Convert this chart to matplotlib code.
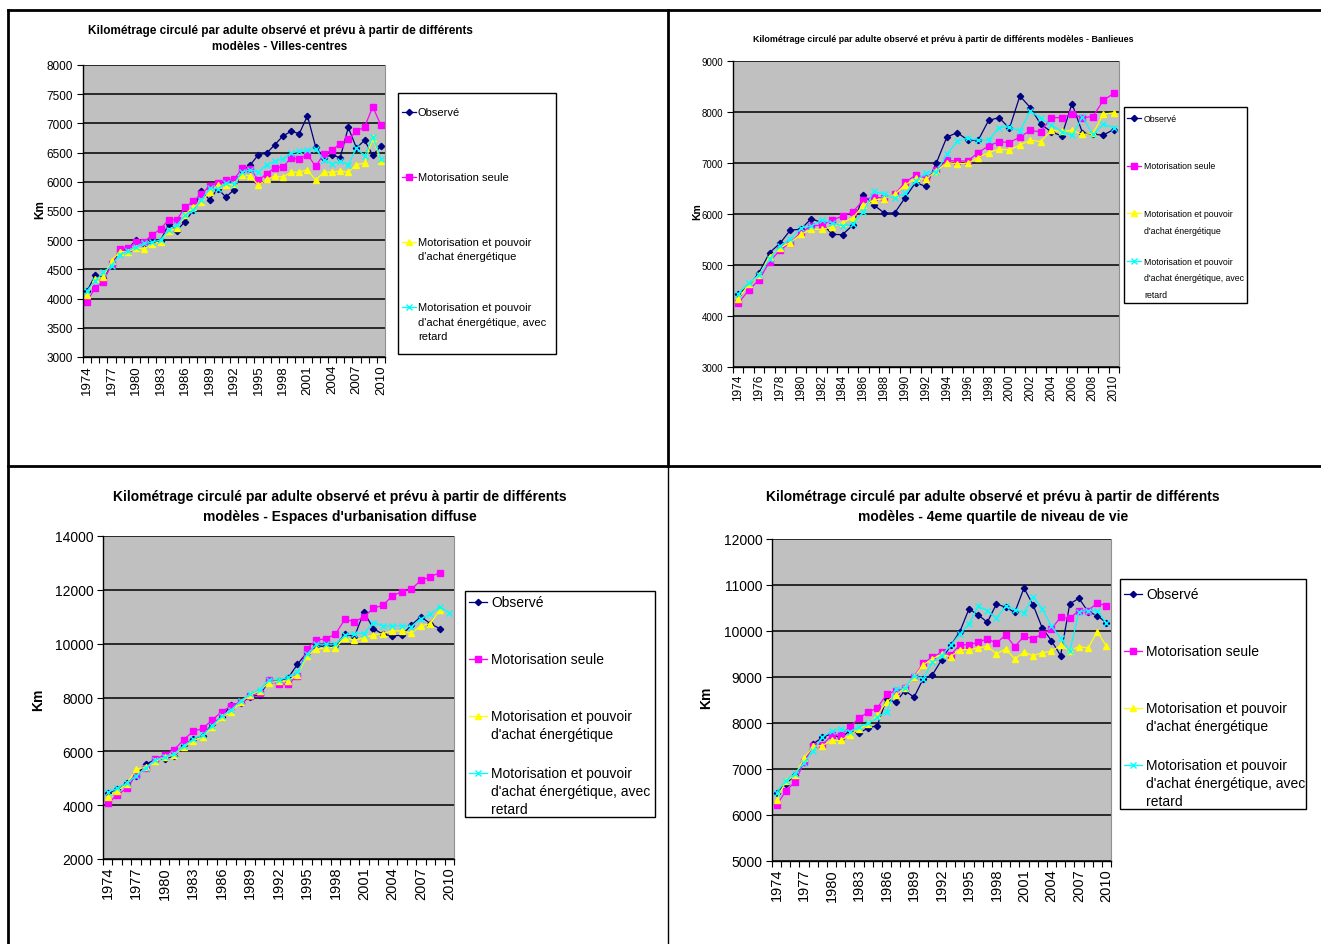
import numpy as np
import matplotlib
matplotlib.use("Agg")
import matplotlib.pyplot as plt
from matplotlib.patches import Rectangle

plt.rcParams['font.family'] = ['Liberation Sans', 'DejaVu Sans']

W, H = 1321, 945
YEARS = list(range(1974, 2011))

# Villes-centres
vc_obs = [4130, 4400, 4360, 4580, 4810, 4850, 5005, 4935, 4975, 4990, 5280, 5165, 5320,
          5510, 5850, 5690, 5880, 5740, 5860, 6195, 6290, 6465, 6490, 6635, 6785, 6865,
          6825, 7130, 6600, 6410, 6465, 6410, 6930, 6580, 6710, 6455, 6615]
vc_mot = [3950, 4190, 4290, 4590, 4850, 4870, 4965, 4975, 5090, 5195, 5350, 5350, 5565,
          5665, 5795, 5920, 5985, 6025, 6040, 6235, 6225, 6025, 6140, 6240, 6255, 6410,
          6385, 6465, 6265, 6475, 6540, 6655, 6725, 6865, 6940, 7285, 6970]
vc_pa = [4060, 4335, 4365, 4650, 4805, 4805, 4860, 4850, 4935, 4975, 5165, 5205, 5435,
         5575, 5650, 5825, 5940, 5940, 5965, 6120, 6100, 5940, 6040, 6100, 6080, 6165,
         6165, 6205, 6025, 6165, 6165, 6185, 6165, 6295, 6320, 6750, 6350]
vc_ret = [4135, 4305, 4450, 4565, 4755, 4820, 4890, 4945, 4965, 5005, 5180, 5260, 5425,
          5520, 5680, 5890, 5880, 5980, 5965, 6165, 6205, 6165, 6295, 6350, 6395, 6495,
          6520, 6540, 6560, 6380, 6310, 6350, 6295, 6580, 6440, 6770, 6395]

# Banlieues
bl_obs = [4425, 4590, 4850, 5240, 5425, 5685, 5700, 5910, 5830, 5600, 5595, 5785, 6375,
          6175, 6020, 6020, 6320, 6615, 6540, 7005, 7510, 7595, 7450, 7445, 7835, 7890,
          7680, 8315, 8085, 7760, 7615, 7530, 8165, 7590, 7560, 7550, 7655]
bl_mot = [4250, 4505, 4710, 5065, 5290, 5440, 5635, 5765, 5785, 5880, 5960, 6045, 6275,
          6340, 6305, 6385, 6625, 6760, 6710, 6855, 7050, 7040, 7040, 7205, 7335, 7420,
          7400, 7510, 7640, 7610, 7890, 7890, 7965, 7890, 7910, 8230, 8365]
bl_pa = [4340, 4620, 4805, 5165, 5340, 5440, 5600, 5700, 5700, 5745, 5830, 5930, 6175,
         6275, 6300, 6385, 6570, 6700, 6680, 6845, 7005, 6985, 6995, 7105, 7205, 7270,
         7255, 7355, 7450, 7420, 7640, 7625, 7640, 7560, 7580, 7955, 7985]
bl_ret = [4440, 4655, 4805, 5110, 5375, 5515, 5720, 5765, 5880, 5830, 5765, 5810, 6045,
          6450, 6385, 6320, 6405, 6645, 6810, 6830, 7170, 7430, 7485, 7445, 7450, 7695,
          7705, 7625, 8020, 7875, 7745, 7615, 7540, 7900, 7560, 7760, 7695]

# Espaces d'urbanisation diffuse (3 series stop in 2009)
ud_obs = [4440, 4600, 4820, 5095, 5525, 5685, 5710, 5835, 6230, 6455, 6580, 7010, 7260,
          7730, 7780, 8035, 8085, 8620, 8620, 8720, 9235, 9670, 9920, 9895, 9920, 10375,
          10250, 11180, 10560, 10350, 10290, 10315, 10685, 11005, 10745, 10560]
ud_mot = [4065, 4375, 4625, 5120, 5365, 5710, 5860, 6060, 6430, 6740, 6850, 7160, 7470,
          7690, 7840, 8060, 8185, 8645, 8495, 8495, 8805, 9820, 10130, 10190, 10350, 10910,
          10820, 10995, 11315, 11425, 11775, 11935, 12020, 12355, 12480, 12640]
ud_pa = [4290, 4535, 4785, 5340, 5405, 5625, 5775, 5875, 6145, 6395, 6540, 6890, 7260,
         7470, 7815, 8085, 8250, 8555, 8595, 8620, 8840, 9545, 9795, 9855, 9855, 10225,
         10130, 10225, 10315, 10375, 10475, 10475, 10390, 10660, 10745, 11255]
ud_ret = [4475, 4625, 4820, 5095, 5380, 5685, 5775, 5900, 6205, 6455, 6605, 6950, 7295,
          7545, 7875, 8125, 8285, 8655, 8645, 8745, 8930, 9610, 9980, 9980, 9980, 10315,
          10375, 10375, 10785, 10660, 10660, 10660, 10635, 10930, 11095, 11380, 11155]

# 4eme quartile de niveau de vie
q4_obs = [6485, 6680, 6860, 7150, 7545, 7690, 7765, 7670, 7835, 7785, 7890, 7945, 8525,
          8450, 8705, 8560, 8960, 9045, 9370, 9685, 9985, 10480, 10350, 10190, 10590, 10515,
          10405, 10935, 10565, 10065, 9790, 9465, 10590, 10710, 10420, 10335, 10175]
q4_mot = [6210, 6520, 6715, 7150, 7510, 7525, 7730, 7745, 7910, 8110, 8235, 8330, 8620,
          8705, 8755, 9010, 9300, 9430, 9540, 9480, 9700, 9700, 9755, 9830, 9735, 9915,
          9660, 9885, 9830, 9935, 10045, 10300, 10275, 10445, 10445, 10610, 10550]
q4_pa = [6330, 6730, 6860, 7235, 7495, 7510, 7620, 7620, 7745, 7875, 7980, 8165, 8465,
         8610, 8755, 8995, 9265, 9395, 9490, 9445, 9595, 9595, 9630, 9670, 9500, 9610,
         9395, 9540, 9465, 9525, 9560, 9685, 9575, 9660, 9630, 9985, 9670]
q4_ret = [6485, 6750, 6895, 7135, 7400, 7690, 7820, 7875, 7815, 7910, 7995, 8125, 8235,
          8740, 8755, 9030, 8960, 9320, 9465, 9685, 9935, 10155, 10540, 10445, 10275, 10540,
          10465, 10395, 10745, 10480, 10105, 9845, 9555, 10420, 10445, 10445, 10175]

LABELS = ["Observé",
          "Motorisation seule",
          "Motorisation et pouvoir\nd'achat énergétique",
          "Motorisation et pouvoir\nd'achat énergétique, avec\nretard"]
TITLE_START = "Kilométrage circulé par adulte observé et prévu à partir de différents"

STYLES = [dict(color="#000080", marker="D", ms=3.2),
          dict(color="#FF00FF", marker="s", ms=3.8),
          dict(color="#FFFF00", marker="^", ms=4.2),
          dict(color="#00FFFF", marker="x", ms=4, mew=1)]

NARROW = ['Liberation Sans Narrow', 'Liberation Sans', 'DejaVu Sans']
NORMAL = ['Liberation Sans', 'DejaVu Sans']


def panel(fig, box, series, ylim, ystep, every, yfs, xfs, family=NORMAL):
    x0, y0, x1, y1 = box
    ax = fig.add_axes([x0 / W, 1 - y1 / H, (x1 - x0) / W, (y1 - y0) / H])
    ax.set_facecolor("#C0C0C0")
    for vals, st in zip(series, STYLES):
        ax.plot(range(len(vals)), vals, lw=0.9, clip_on=False, **st)
    ax.set_xlim(-0.5, len(YEARS) - 0.5)
    ax.set_ylim(*ylim)
    yt = np.arange(ylim[0], ylim[1] + 1, ystep)
    ax.set_yticks(yt)
    ax.set_yticklabels([str(int(v)) for v in yt], fontsize=yfs, family=family)
    ax.yaxis.grid(True, color="black", lw=1.1)
    ax.set_axisbelow(True)
    idx = [i for i in range(len(YEARS)) if i % every == 0]
    ax.set_xticks(idx)
    ax.set_xticklabels([str(YEARS[i]) for i in idx], rotation=90, fontsize=xfs, family=family)
    ax.set_xticks(np.arange(-0.5, len(YEARS)), minor=True)
    ax.tick_params(axis="x", which="major", length=0, pad=5)
    ax.tick_params(axis="x", which="minor", length=4, width=0.8, direction="out")
    ax.tick_params(axis="y", length=4, width=0.8, pad=3)
    for s in ["left", "bottom"]:
        ax.spines[s].set_color("black")
        ax.spines[s].set_linewidth(1)
    ax.spines["top"].set_visible(False)
    ax.spines["right"].set_color("#909090")
    ax.spines["right"].set_linewidth(0.8)
    return ax


def legend(ov, box, first_y, pitch, line_h, hx0, hx1, tx, fs, family=NORMAL):
    x0, y0, x1, y1 = box
    ov.add_patch(Rectangle((x0, y0), x1 - x0, y1 - y0, fill=False, ec="black", lw=1))
    for k, (lab, st) in enumerate(zip(LABELS, STYLES)):
        y = first_y + k * pitch
        ov.plot([hx0, (hx0 + hx1) / 2, hx1], [y, y, y], lw=0.9, markevery=[1], **st)
        for j, line in enumerate(lab.split("\n")):
            ov.text(tx, y + j * line_h, line, fontsize=fs, family=family, va="center", ha="left")


def title(ov, cx, y, pitch, lines, fs, family=NORMAL):
    for j, line in enumerate(lines):
        ov.text(cx, y + j * pitch, line, fontsize=fs, family=family, weight="bold",
                ha="center", va="center")


fig = plt.figure(figsize=(W / 100, H / 100), dpi=100)
fig.patch.set_facecolor("white")

panel(fig, (83, 66, 385, 358), [vc_obs, vc_mot, vc_pa, vc_ret], (3000, 8000), 500, 3, 8.5, 9.5)
panel(fig, (733, 62, 1119, 368), [bl_obs, bl_mot, bl_pa, bl_ret], (3000, 9000), 1000, 2, 7, 8.5, NARROW)
panel(fig, (103, 537, 454, 860), [ud_obs, ud_mot, ud_pa, ud_ret], (2000, 14000), 2000, 3, 10, 10.5)
panel(fig, (772, 540, 1111, 862), [q4_obs, q4_mot, q4_pa, q4_ret], (5000, 12000), 1000, 3, 10, 10.5)

ov = fig.add_axes([0, 0, 1, 1], zorder=10)
ov.set_xlim(0, W)
ov.set_ylim(H, 0)
ov.axis("off")
ov.patch.set_alpha(0)

# frame around the four charts
ov.plot([8, 1321], [11, 11], color="black", lw=2)
ov.plot([8, 8], [11, 945], color="black", lw=2)
ov.plot([8, 1321], [467, 467], color="black", lw=2)
ov.plot([668, 668], [11, 467], color="black", lw=2)
ov.plot([668, 668], [467, 945], color="black", lw=1.0)

title(ov, 280, 31, 16, [TITLE_START, "modèles - Villes-centres"], 8.5)
title(ov, 943, 40, 16, [TITLE_START + " modèles - Banlieues"], 6.4, NARROW)
title(ov, 340, 497, 20, [TITLE_START, "modèles - Espaces d'urbanisation diffuse"], 10)
title(ov, 993, 497, 20, [TITLE_START, "modèles - 4eme quartile de niveau de vie"], 10)

ov.text(40, 210, "Km", rotation=90, fontsize=8.5, weight="bold", ha="center", va="center")
ov.text(697, 212, "Km", rotation=90, fontsize=7.5, weight="bold", ha="center", va="center", family=NARROW)
ov.text(38, 700, "Km", rotation=90, fontsize=10, weight="bold", ha="center", va="center")
ov.text(706, 698, "Km", rotation=90, fontsize=10, weight="bold", ha="center", va="center")

legend(ov, (398, 94, 556, 355), 113, 65, 14.5, 402, 416, 418, 8)
legend(ov, (1124, 108, 1247, 304), 119, 47.7, 16.7, 1127, 1141, 1144, 6.3, NARROW)
legend(ov, (465, 592, 655, 818), 603, 57, 18, 469, 487, 491, 10)
legend(ov, (1120, 580, 1306, 810), 595, 57, 18, 1124, 1142, 1146, 10)

fig.savefig("out.png", dpi=100, facecolor="white")
